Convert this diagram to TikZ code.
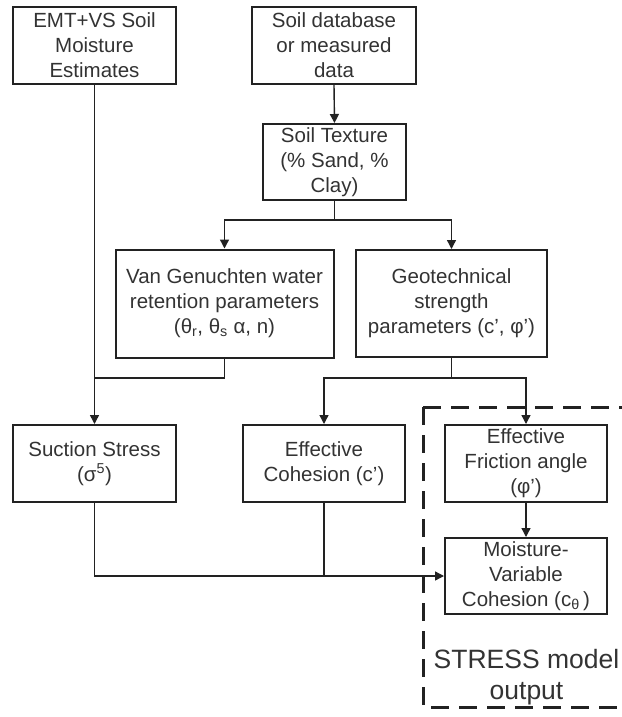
\documentclass[tikz,border=0pt]{standalone}
\usepackage{fontspec}
\setmainfont{Liberation Sans}
\usetikzlibrary{arrows.meta}
\definecolor{ink}{HTML}{222222}
\definecolor{txt}{HTML}{333333}
\begin{document}
\begin{tikzpicture}[x=1pt,y=-1pt,
  box/.style={draw=ink,line width=2pt,inner sep=0pt,align=center,text=txt,
    font=\fontsize{20.5}{25}\selectfont},
  conn/.style={draw=ink,line width=1.4pt},
  arr/.style={conn,-{Triangle[length=9pt,width=9pt]}}]
\useasboundingbox (0,0) rectangle (621,717);
\fill[white] (0,0) rectangle (621,717);
\node[box,minimum width=163pt,minimum height=77pt] (emt) at (94.5,45.5) {EMT+VS Soil\\Moisture\\Estimates};
\node[box,minimum width=164pt,minimum height=77pt] (db) at (334,45.5) {Soil database\\or measured\\data};
\node[box,minimum width=143pt,minimum height=76pt] (tex) at (334.5,162) {Soil Texture\\(\% Sand, \%\\Clay)};
\node[box,minimum width=218pt,minimum height=108pt] (vg) at (224.5,303.5) {Van Genuchten water\\retention parameters\\(θ\textsubscript{r}, θ\textsubscript{s} α, n)};
\node[box,minimum width=191pt,minimum height=107pt] (geo) at (451.5,303.5) {Geotechnical\\strength\\parameters (c’, φ’)};
\node[box,minimum width=163pt,minimum height=77pt] (suc) at (94.5,463.5) {Suction Stress\\(σ\textsuperscript{5})};
\node[box,minimum width=162pt,minimum height=77pt] (coh) at (324,463.5) {Effective\\Cohesion (c’)};
\node[box,minimum width=162pt,minimum height=77pt] (fri) at (526,463.5) {Effective\\Friction angle\\(φ’)};
\node[box,minimum width=162pt,minimum height=76pt] (moi) at (526,576) {Moisture-\\Variable\\Cohesion (c\textsubscript{θ}\,)};
\draw[ink,line width=3pt,dash pattern=on 18pt off 10pt] (423,407) -- (640,407);
\draw[ink,line width=3pt,dash pattern=on 18pt off 10pt] (423,407) -- (423,707) -- (640,707);
\node[text=txt,font=\fontsize{26.5}{31}\selectfont,align=center,inner sep=0pt] (out) at (526.5,677) {STRESS model\\output};
% connectors
\draw[arr] (db.south) -- (tex.north);
\coordinate (tj) at (334.5,220);
\draw[conn] (tex.south) -- (tj);
\draw[arr] (tj) -| (vg.north);
\draw[arr] (tj) -| (geo.north);
\draw[arr] (emt.south) -- (suc.north);
\coordinate (vj) at (94.5,378);
\draw[conn] (vg.south) |- (vj);
\coordinate (gj) at (451.5,378);
\draw[conn] (geo.south) -- (gj);
\draw[arr] (gj) -| (coh.north);
\draw[arr] (gj) -| (fri.north);
\draw[arr] (fri.south) -- (moi.north);
\coordinate (bj) at (324,576);
\draw[conn] (suc.south) |- (bj);
\draw[conn] (coh.south) -- (bj);
\draw[arr] (bj) -- (moi.west);
\end{tikzpicture}
\end{document}
